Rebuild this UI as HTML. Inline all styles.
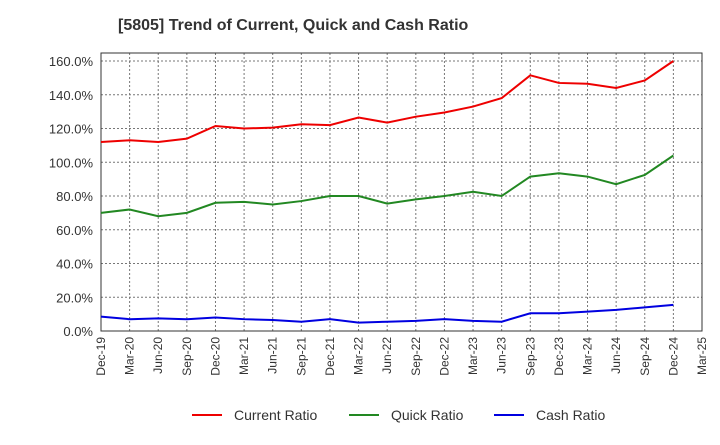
<!DOCTYPE html>
<html><head><meta charset="utf-8"><style>
body{margin:0;background:#fff;font-family:"Liberation Sans",sans-serif;}
</style></head><body>
<svg id="chart" width="720" height="440" xmlns="http://www.w3.org/2000/svg" font-family="Liberation Sans, sans-serif">
<text x="118" y="30" font-size="16" font-weight="bold" fill="#333">[5805]  Trend of Current, Quick and Cash Ratio</text>
<g id="grid"></g><g id="axes"></g><g id="series"></g>
<g font-size="14" fill="#333">
<line x1="192" y1="415" x2="222" y2="415" stroke="#e00" stroke-width="2"/><text x="234" y="420">Current Ratio</text>
<line x1="349" y1="415" x2="379" y2="415" stroke="#228822" stroke-width="2"/><text x="391" y="420">Quick Ratio</text>
<line x1="494" y1="415" x2="524" y2="415" stroke="#0000e0" stroke-width="2"/><text x="536" y="420">Cash Ratio</text>
</g>
</svg>
<script>
const categories=["Dec-19","Mar-20","Jun-20","Sep-20","Dec-20","Mar-21","Jun-21","Sep-21","Dec-21","Mar-22","Jun-22","Sep-22","Dec-22","Mar-23","Jun-23","Sep-23","Dec-23","Mar-24","Jun-24","Sep-24","Dec-24","Mar-25"];
const currentRatio=[112,113,112,114,121.5,120,120.5,122.5,122,126.5,123.5,127,129.5,133,138,151.5,147,146.5,144,148.5,160];
const quickRatio=[70,72,68,70,76,76.5,75,77,80,80,75.5,78,80,82.5,80,91.5,93.5,91.5,87,92.5,104];
const cashRatio=[8.5,7,7.5,7,8,7,6.5,5.5,7,5,5.5,6,7,6,5.5,10.5,10.5,11.5,12.5,14,15.5];
const yTicks=[0,20,40,60,80,100,120,140,160];
const L=101,R=702,T=53,B=331;
const x=i=>L+i*(R-L)/(categories.length-1);
const y=v=>B-v*(B-61)/160;
const NS="http://www.w3.org/2000/svg";
function mk(p,t,a){const e=document.createElementNS(NS,t);for(const k in a)e.setAttribute(k,a[k]);p.appendChild(e);return e;}
const g=document.getElementById('grid'),ax=document.getElementById('axes'),s=document.getElementById('series');
yTicks.forEach(v=>{
 const l=mk(g,'line',{x1:L,x2:R,y1:y(v),y2:y(v),stroke:'#777','stroke-dasharray':'2,2','stroke-width':1});
 
 
 const t=mk(ax,'text',{x:L-8,y:y(v)+5,'text-anchor':'end','font-size':13,fill:'#333'});
 t.textContent=v.toFixed(1)+'%';
 
 
});
categories.forEach((c,i)=>{
 const l=mk(g,'line',{x1:x(i),x2:x(i),y1:T,y2:B,stroke:'#777','stroke-dasharray':'2,2','stroke-width':1});
 
 
 const t=mk(ax,'text',{x:0,y:0,'text-anchor':'end','font-size':12,fill:'#333',transform:`translate(${x(i)+4},${B+6}) rotate(-90)`});
 t.textContent=c;
 
 
});
const fr=mk(ax,'rect',{x:L,y:T,width:R-L,height:B-T,fill:'none',stroke:'#333','stroke-width':1});


[[currentRatio,'#e00','current-ratio-line'],[quickRatio,'#228822','quick-ratio-line'],[cashRatio,'#0000e0','cash-ratio-line']].forEach(([d,c,n])=>{
 const p=mk(s,'polyline',{points:d.map((v,i)=>x(i)+','+y(v)).join(' '),fill:'none',stroke:c,'stroke-width':2});
 
 
});
</script>
</body></html>
